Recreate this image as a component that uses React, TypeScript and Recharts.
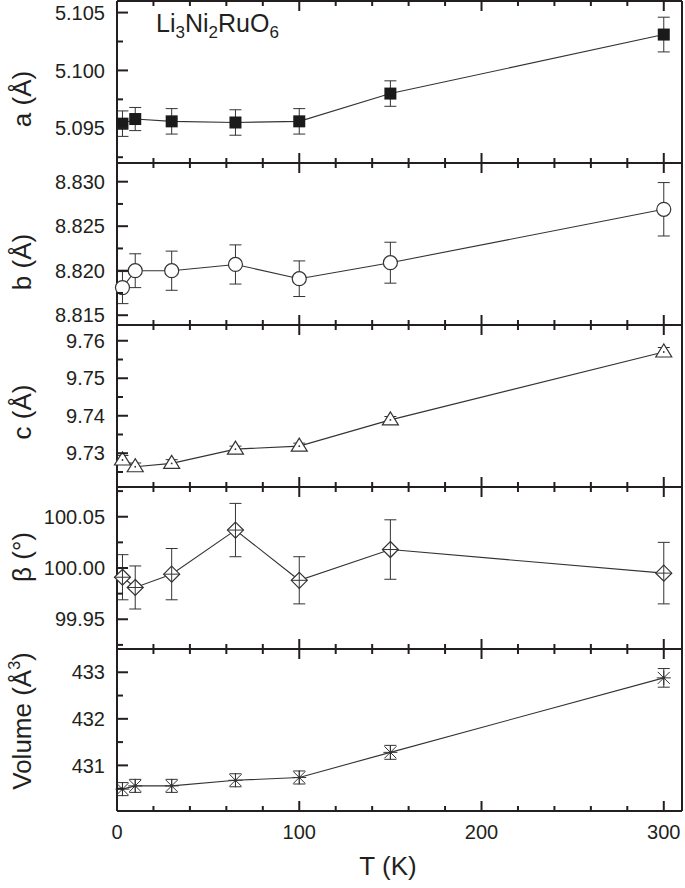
import React from "react";
import { ErrorBar, Line, LineChart, XAxis, YAxis } from "recharts";

const temps = [3, 10, 30, 65, 100, 150, 300];

const aVals = [5.0954, 5.0958, 5.0956, 5.0955, 5.0956, 5.098, 5.1031];
const aErr = [0.0011, 0.001, 0.0011, 0.0011, 0.0011, 0.0011, 0.0015];
const bVals = [8.8181, 8.82, 8.82, 8.8207, 8.8191, 8.8209, 8.8269];
const bErr = [0.0018, 0.0019, 0.0022, 0.0022, 0.002, 0.0023, 0.003];
const cVals = [9.7282, 9.7264, 9.7273, 9.7311, 9.7319, 9.7389, 9.757];
const cErr = [0.0012, 0.001, 0.001, 0.0008, 0.0008, 0.0009, 0.0012];
const betaVals = [99.991, 99.981, 99.994, 100.037, 99.988, 100.018, 99.995];
const betaErr = [0.022, 0.021, 0.025, 0.026, 0.023, 0.029, 0.03];
const volVals = [430.49, 430.56, 430.56, 430.68, 430.74, 431.28, 432.88];
const volErr = [0.14, 0.14, 0.14, 0.14, 0.14, 0.15, 0.2];

const xTicks = [0, 20, 40, 60, 80, 100, 120, 140, 160, 180, 200, 220, 240, 260, 280, 300];
const xMajor = [0, 100, 200, 300];

const aTicks = [5.0925, 5.095, 5.0975, 5.1, 5.1025, 5.105];
const aMajor = [5.095, 5.1, 5.105];
const bTicks = [8.815, 8.8175, 8.82, 8.8225, 8.825, 8.8275, 8.83];
const bMajor = [8.815, 8.82, 8.825, 8.83];
const cTicks = [9.725, 9.73, 9.735, 9.74, 9.745, 9.75, 9.755, 9.76];
const cMajor = [9.73, 9.74, 9.75, 9.76];
const betaTicks = [99.925, 99.95, 99.975, 100, 100.025, 100.05, 100.075];
const betaMajor = [99.95, 100, 100.05];
const volTicks = [430.5, 431, 431.5, 432, 432.5, 433];
const volMajor = [431, 432, 433];

const INK = "#231f20";
const LINE = "#333";
const FONT = "'Liberation Sans', Arial, sans-serif";
const PLOT_H = 162;
const PAD = 4;

const isMajor = (list: number[], v: number) => list.some((m) => Math.abs(m - v) < 1e-7);

// inward ticks, long for majors, short for minors
function makeTick(side: "left" | "bottom" | "top", majors: number[], labels: boolean, digits = 0) {
  return (props: any) => {
    const x = Number(props.x);
    const y = Number(props.y);
    const v = Number(props.payload.value);
    const major = isMajor(majors, v);
    if (side === "left") {
      const len = major ? 11 : 6;
      return (
        <g>
          <path d={`M${x},${y}H${x + len}`} stroke={INK} strokeWidth={2} fill="none" />
          {major && labels && (
            <text x={x - 12} y={y} dy="0.36em" textAnchor="end" fontSize={20} fill={INK} fontFamily={FONT}>
              {v.toFixed(digits)}
            </text>
          )}
        </g>
      );
    }
    const len = major ? 10 : 5;
    const dir = side === "bottom" ? -1 : 1;
    return (
      <g>
        <path d={`M${x},${y}V${y + dir * len}`} stroke={INK} strokeWidth={2} fill="none" />
        {major && labels && (
          <text x={x} y={y + 28} textAnchor="middle" fontSize={20} fill={INK} fontFamily={FONT}>
            {v}
          </text>
        )}
      </g>
    );
  };
}

type Marker = "square" | "circle" | "triangle" | "diamond" | "star";

function makeDot(kind: Marker) {
  return (props: any) => {
    const { cx, cy, index } = props;
    const key = `m${index}`;
    if (cx == null || cy == null) return <g key={key} />;
    if (kind === "square")
      return <rect key={key} x={cx - 6} y={cy - 6} width={12} height={12} fill="#1a1a1a" />;
    if (kind === "circle")
      return <circle key={key} cx={cx} cy={cy} r={7} fill="#fff" stroke={LINE} strokeWidth={1.2} />;
    if (kind === "triangle")
      return (
        <g key={key}>
          <polygon
            points={`${cx},${cy - 8} ${cx - 8},${cy + 5} ${cx + 8},${cy + 5}`}
            fill="#fff"
            stroke={LINE}
            strokeWidth={1.2}
          />
          <circle cx={cx} cy={cy} r={0.9} fill={LINE} />
        </g>
      );
    if (kind === "diamond")
      return (
        <g key={key}>
          <polygon
            points={`${cx},${cy - 8} ${cx + 8},${cy} ${cx},${cy + 8} ${cx - 8},${cy}`}
            fill="#fff"
            stroke={LINE}
            strokeWidth={1.2}
          />
          <path d={`M${cx - 8},${cy}H${cx + 8}M${cx},${cy - 8}V${cy + 8}`} stroke={LINE} strokeWidth={1} />
        </g>
      );
    return (
      <g key={key}>
        <path
          d={`M${cx - 7},${cy}H${cx + 7}M${cx - 6},${cy - 6}L${cx + 6},${cy + 6}M${cx - 6},${cy + 6}L${cx + 6},${cy - 6}M${cx},${cy - 7}V${cy + 7}`}
          stroke={LINE}
          strokeWidth={1}
          fill="none"
        />
        <circle cx={cx} cy={cy} r={1.5} fill={LINE} />
      </g>
    );
  };
}

type Panel = {
  vals: number[];
  errs: number[];
  domain: [number, number];
  ticks: number[];
  majors: number[];
  digits: number;
  marker: Marker;
  top: number;
};

const panels: Panel[] = [
  { vals: aVals, errs: aErr, domain: [5.092, 5.106], ticks: aTicks, majors: aMajor, digits: 3, marker: "square", top: 1 },
  { vals: bVals, errs: bErr, domain: [8.8139, 8.8321], ticks: bTicks, majors: bMajor, digits: 3, marker: "circle", top: 163 },
  { vals: cVals, errs: cErr, domain: [9.721, 9.7642], ticks: cTicks, majors: cMajor, digits: 2, marker: "triangle", top: 325 },
  { vals: betaVals, errs: betaErr, domain: [99.921, 100.079], ticks: betaTicks, majors: betaMajor, digits: 2, marker: "diamond", top: 487 },
  { vals: volVals, errs: volErr, domain: [430.02, 433.5], ticks: volTicks, majors: volMajor, digits: 0, marker: "star", top: 649 },
];

function PanelChart({ p, last }: { p: Panel; last: boolean }) {
  const rows = temps.map((t, i) => ({ T: t, v: p.vals[i], e: p.errs[i] }));
  const bottomH = last ? 50 : 1;
  const axisLine = { stroke: INK, strokeWidth: 2 };
  return (
    <div style={{ position: "absolute", left: 0, top: p.top - PAD }}>
      <LineChart
        width={685}
        height={PLOT_H + 2 * PAD + (last ? 50 - 1 : 0)}
        data={rows}
        margin={{ top: PAD - 1, right: 2, bottom: PAD - 1, left: 0 }}
      >
        <XAxis
          xAxisId="b"
          dataKey="T"
          type="number"
          domain={[0, 310]}
          ticks={xTicks}
          interval={0}
          orientation="bottom"
          height={bottomH}
          tickSize={0}
          tickMargin={0}
          tickLine={false}
          axisLine={axisLine}
          tick={makeTick("bottom", xMajor, last)}
        />
        <XAxis
          xAxisId="t"
          dataKey="T"
          type="number"
          domain={[0, 310]}
          ticks={xTicks}
          interval={0}
          orientation="top"
          height={1}
          tickSize={0}
          tickMargin={0}
          tickLine={false}
          axisLine={axisLine}
          tick={makeTick("top", xMajor, false)}
        />
        <YAxis
          yAxisId="l"
          type="number"
          domain={p.domain}
          ticks={p.ticks}
          interval={0}
          width={117}
          tickSize={0}
          tickMargin={0}
          tickLine={false}
          axisLine={axisLine}
          tick={makeTick("left", p.majors, true, p.digits)}
        />
        <YAxis
          yAxisId="r"
          orientation="right"
          type="number"
          domain={p.domain}
          width={1}
          tick={false}
          tickLine={false}
          axisLine={axisLine}
        />
        <Line
          xAxisId="b"
          yAxisId="l"
          dataKey="v"
          stroke={LINE}
          strokeWidth={1.1}
          dot={makeDot(p.marker)}
          activeDot={false}
          isAnimationActive={false}
        >
          <ErrorBar dataKey="e" direction="y" width={6} stroke={LINE} strokeWidth={1} isAnimationActive={false} />
        </Line>
      </LineChart>
    </div>
  );
}

const sub = (s: string) => <span style={{ fontSize: 17, position: "relative", top: 6 }}>{s}</span>;

const yTitles: { node: React.ReactNode; cy: number }[] = [
  { node: <>a (Å)</>, cy: 99 },
  { node: <>b (Å)</>, cy: 262 },
  { node: <>c (Å)</>, cy: 412 },
  { node: <>β (°)</>, cy: 557 },
  { node: <>Volume (Å<span style={{ fontSize: 16, position: "relative", top: -11 }}>3</span>)</>, cy: 721 },
];

export default function App() {
  return (
    <div
      style={{
        position: "absolute",
        left: 0,
        top: 0,
        width: 685,
        height: 888,
        background: "#fff",
        fontFamily: FONT,
        color: INK,
        overflow: "hidden",
      }}
    >
      {panels.map((p, i) => (
        <PanelChart key={i} p={p} last={i === panels.length - 1} />
      ))}
      {yTitles.map((t, i) => (
        <div
          key={i}
          style={{
            position: "absolute",
            left: 22,
            top: t.cy,
            transform: "translate(-50%, -50%) rotate(-90deg)",
            whiteSpace: "nowrap",
            fontSize: 26,
            lineHeight: 1,
          }}
        >
          {t.node}
        </div>
      ))}
      <div style={{ position: "absolute", left: 156, top: 11, fontSize: 25, lineHeight: 1, whiteSpace: "nowrap" }}>
        Li{sub("3")}Ni{sub("2")}RuO{sub("6")}
      </div>
      <div
        style={{
          position: "absolute",
          left: 388,
          top: 866,
          transform: "translate(-50%, -50%)",
          whiteSpace: "nowrap",
          fontSize: 26,
          lineHeight: 1,
        }}
      >
        T (K)
      </div>
    </div>
  );
}
